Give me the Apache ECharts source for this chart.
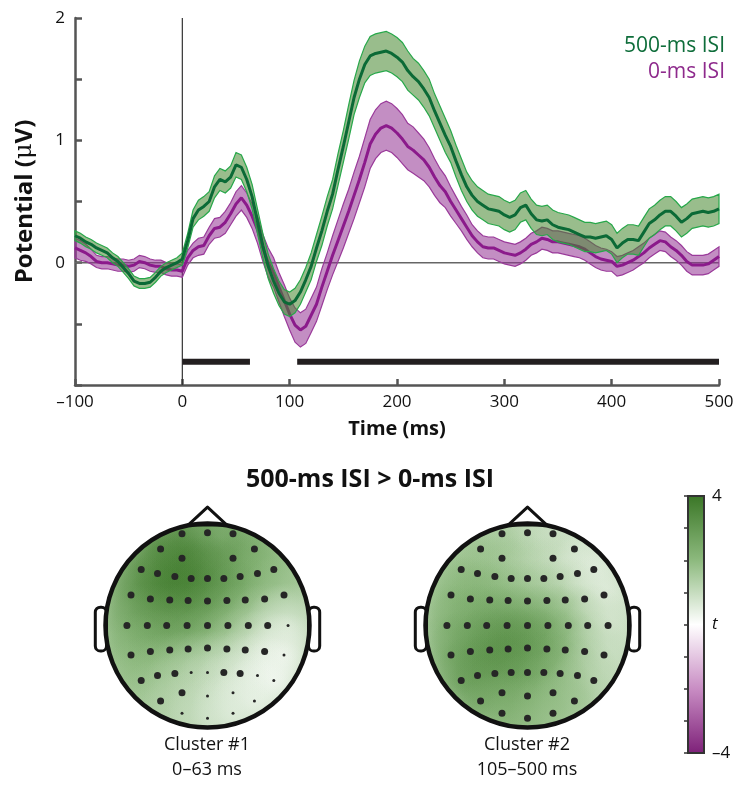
<!DOCTYPE html>
<html><head><meta charset="utf-8">
<script src="https://cdn.jsdelivr.net/npm/echarts@6.0.0/dist/echarts.min.js"></script>
<style>html,body{margin:0;padding:0;background:#fff}#c{width:740px;height:797px}</style>
</head><body><div id="c"></div>
<script>
// ---------- ERP data (time in ms, potential in µV) ----------
const times = [-100,-95,-90,-85,-80,-75,-70,-65,-60,-55,-50,-45,-40,-35,-30,-25,-20,-15,-10,-5,
 0,5,10,15,20,25,30,35,40,45,50,55,60,65,70,75,80,85,90,95,
 100,105,110,115,120,125,130,135,140,145,150,155,160,165,170,175,180,185,190,195,
 200,205,210,215,220,225,230,235,240,245,250,255,260,265,270,275,280,285,290,295,
 300,305,310,315,320,325,330,335,340,345,350,355,360,365,370,375,380,385,390,395,
 400,405,410,415,420,425,430,435,440,445,450,455,460,465,470,475,480,485,490,495,500];
const greenMean = [0.22,0.20,0.17,0.15,0.12,0.10,0.08,0.04,0.01,-0.04,-0.09,-0.15,-0.17,-0.17,-0.16,-0.12,-0.07,-0.04,-0.02,0.00,
 0.03,0.18,0.36,0.43,0.46,0.50,0.62,0.68,0.66,0.70,0.80,0.78,0.68,0.54,0.34,0.14,-0.03,-0.15,-0.25,-0.32,
 -0.34,-0.31,-0.24,-0.14,-0.03,0.12,0.26,0.42,0.56,0.76,0.95,1.15,1.35,1.50,1.62,1.69,1.71,1.72,1.73,1.71,
 1.68,1.64,1.57,1.52,1.48,1.42,1.35,1.24,1.14,1.04,0.95,0.83,0.72,0.62,0.55,0.50,0.47,0.44,0.43,0.42,
 0.39,0.37,0.39,0.45,0.47,0.40,0.35,0.34,0.35,0.31,0.29,0.28,0.27,0.25,0.23,0.21,0.21,0.20,0.21,0.22,
 0.19,0.12,0.16,0.19,0.19,0.18,0.25,0.32,0.35,0.39,0.42,0.42,0.38,0.33,0.36,0.40,0.41,0.42,0.41,0.42,0.44];
const greenSE = [0.04,0.04,0.04,0.04,0.04,0.04,0.04,0.04,0.04,0.04,0.04,0.04,0.04,0.04,0.04,0.04,0.04,0.04,0.04,0.04,
 0.05,0.06,0.07,0.08,0.08,0.08,0.09,0.09,0.09,0.09,0.10,0.10,0.10,0.10,0.10,0.10,0.10,0.10,0.10,0.10,
 0.10,0.10,0.10,0.10,0.11,0.11,0.12,0.12,0.12,0.13,0.13,0.14,0.14,0.15,0.15,0.16,0.16,0.16,0.16,0.16,
 0.16,0.16,0.16,0.15,0.15,0.15,0.15,0.14,0.14,0.14,0.13,0.13,0.13,0.12,0.12,0.12,0.12,0.12,0.12,0.12,
 0.12,0.12,0.12,0.12,0.12,0.12,0.12,0.12,0.12,0.12,0.12,0.12,0.12,0.12,0.12,0.12,0.12,0.12,0.12,0.12,
 0.12,0.12,0.12,0.12,0.12,0.12,0.12,0.12,0.12,0.12,0.12,0.12,0.12,0.12,0.12,0.12,0.12,0.12,0.12,0.12,0.12];
const purpleMean = [0.12,0.10,0.08,0.05,0.01,0.00,0.00,-0.01,-0.02,-0.02,-0.03,-0.02,0.01,0.00,-0.02,-0.03,-0.03,-0.05,-0.06,-0.06,
 -0.07,0.04,0.10,0.13,0.14,0.22,0.28,0.29,0.33,0.40,0.48,0.53,0.47,0.38,0.27,0.12,0.00,-0.08,-0.20,-0.31,
 -0.42,-0.51,-0.55,-0.52,-0.43,-0.34,-0.20,-0.07,0.06,0.18,0.30,0.42,0.55,0.68,0.82,0.97,1.05,1.10,1.12,1.10,
 1.06,1.01,0.95,0.92,0.88,0.84,0.78,0.70,0.63,0.58,0.50,0.43,0.36,0.29,0.22,0.17,0.13,0.12,0.12,0.10,
 0.08,0.07,0.06,0.08,0.11,0.15,0.17,0.20,0.19,0.17,0.17,0.16,0.15,0.14,0.13,0.11,0.08,0.05,0.03,0.02,
 0.01,-0.03,-0.02,0.00,0.02,0.05,0.08,0.12,0.15,0.18,0.17,0.13,0.10,0.06,0.01,-0.02,-0.02,-0.02,-0.01,0.02,0.05];
const purpleSE = [0.08,0.08,0.07,0.06,0.05,0.05,0.05,0.05,0.05,0.05,0.05,0.05,0.05,0.05,0.05,0.05,0.05,0.05,0.05,0.05,
 0.05,0.06,0.06,0.07,0.07,0.07,0.08,0.08,0.09,0.09,0.10,0.10,0.10,0.10,0.11,0.11,0.12,0.12,0.12,0.13,
 0.13,0.14,0.14,0.14,0.14,0.14,0.15,0.15,0.16,0.17,0.18,0.18,0.19,0.19,0.20,0.20,0.20,0.20,0.20,0.20,
 0.20,0.20,0.19,0.19,0.18,0.17,0.16,0.15,0.14,0.13,0.12,0.11,0.10,0.10,0.09,0.09,0.09,0.09,0.09,0.09,
 0.09,0.09,0.09,0.09,0.09,0.09,0.09,0.09,0.09,0.09,0.09,0.09,0.09,0.09,0.09,0.09,0.09,0.09,0.09,0.09,
 0.08,0.08,0.08,0.08,0.08,0.08,0.08,0.08,0.08,0.08,0.08,0.08,0.08,0.08,0.08,0.08,0.08,0.08,0.08,0.08,0.08];
const seriesNames = ['500-ms ISI', '0-ms ISI'];
// significant clusters (ms)
const sigStart = [0, 107];
const sigEnd = [63, 500];
const sigLevel = -0.81;
const yTickLabels = [0, 1, 2];

// ---------- topography (head-normalised electrode positions, t values) ----------
const elecX = [-0.25,0,0.25, -0.46,0.46, -0.25,0.25,
 -0.65,-0.49,-0.32,-0.16,0,0.16,0.32,0.49,0.65,
 -0.75,-0.56,-0.37,-0.19,0,0.19,0.37,0.56,0.75,
 -0.79,-0.59,-0.40,-0.20,0,0.20,0.40,0.59,0.79,
 -0.75,-0.56,-0.37,-0.19,0,0.19,0.37,0.56,0.75,
 -0.65,-0.49,-0.32,-0.16,0,0.16,0.32,0.49,0.65,
 -0.46,-0.25,0,0.25,0.46, -0.25,0,0.25];
const elecY = [0.90,0.91,0.90, 0.75,0.75, 0.66,0.66,
 0.55,0.51,0.48,0.46,0.46,0.46,0.48,0.51,0.55,
 0.30,0.26,0.25,0.245,0.24,0.245,0.25,0.26,0.30,
 0,0,0,0,0,0,0,0,0,
 -0.29,-0.255,-0.24,-0.23,-0.22,-0.23,-0.24,-0.255,-0.29,
 -0.54,-0.49,-0.47,-0.46,-0.46,-0.46,-0.47,-0.49,-0.54,
 -0.74,-0.66,-0.69,-0.66,-0.74, -0.86,-0.91,-0.86];
const cluster1T = [3.2,3.0,2.6, 3.4,2.4, 3.6,2.8,
 3.0,3.4,3.6,3.7,3.6,3.2,2.8,2.4,2.0,
 2.8,3.4,3.7,3.7,3.5,3.0,2.6,2.2,1.6,
 2.4,2.8,3.1,3.1,2.9,2.4,1.8,1.2,0.5,
 2.0,2.4,2.6,2.6,2.3,1.8,1.2,0.6,0.2,
 1.8,2.0,1.8,1.5,1.3,1.1,0.8,0.4,0.1,
 1.5,1.4,1.0,0.7,0.3, 1.2,0.9,0.5];
const cluster1Sig = [1,1,1, 1,1, 1,1,
 1,1,1,1,1,1,1,1,1,
 1,1,1,1,1,1,1,1,1,
 1,1,1,1,1,1,1,1,0,
 1,1,1,1,1,1,1,1,0,
 1,1,1,0,0,1,1,0,0,
 1,1,0,0,0, 0,0,0];
const cluster2T = [1.4,1.2,0.8, 1.6,0.6, 1.6,1.2,
 1.8,1.8,1.8,1.6,1.4,1.2,1.0,0.8,0.4,
 2.0,2.2,2.2,2.0,1.8,1.6,1.4,1.0,0.4,
 2.2,2.4,2.6,2.8,2.6,2.4,2.0,1.4,0.6,
 2.4,2.8,3.0,3.2,3.2,2.8,2.4,1.6,0.8,
 2.6,3.0,3.2,3.2,3.0,2.8,2.4,1.8,1.0,
 2.6,2.8,2.6,2.2,1.6, 2.2,2.2,1.8];
const cluster2Sig = cluster1Sig.map(() => 1);
const clusterBaseT = [1.4, 1.2];
const clusterNames = ['Cluster #1', 'Cluster #2'];
const clusterWindows = ['0\u201363 ms', '105\u2013500 ms'];
const topoTitle = '500-ms ISI > 0-ms ISI';
const cbarMin = -4, cbarMax = 4;

// ---------- colour map ----------
const cmap = [[-4,[125,32,120]],[-2,[200,140,195]],[0,[255,255,255]],[2,[140,185,125]],[4,[58,118,38]]];
function colorOf(t){
  t = Math.max(-4, Math.min(4, t));
  for (let i=0;i<cmap.length-1;i++){
    const [a,ca]=cmap[i],[b,cb]=cmap[i+1];
    if (t>=a && t<=b){ const f=(t-a)/(b-a); return ca.map((v,k)=>Math.round(v+(cb[k]-v)*f)); }
  }
  return cmap[cmap.length-1][1];
}
const rgba=(c,a)=>`rgba(${c[0]},${c[1]},${c[2]},${a})`;

const FONT = '"Open Sans", "Noto Sans", sans-serif';
const chart = echarts.init(document.getElementById('c'), null, {renderer:'canvas'});

function bandSeries(mean, se, fill, stroke, z){
  const data = times.map((t,i)=>[t, +(mean[i]-se[i]).toFixed(3), +(mean[i]+se[i]).toFixed(3)]);
  return {type:'custom', z, silent:true, xAxisIndex:0, yAxisIndex:0, data, encode:{x:0, y:[1,2]},
    renderItem(params, api){
      if (params.dataIndex !== 0) return null;
      const up = data.map(d=>api.coord([d[0], d[2]]));
      const lo = data.map(d=>api.coord([d[0], d[1]])).reverse();
      return {type:'polygon', shape:{points: up.concat(lo)}, style:{fill, stroke, lineWidth:1.2}};
    }};
}
function meanSeries(name, mean, color, z){
  return {type:'line', name, z, silent:true, xAxisIndex:0, yAxisIndex:0, showSymbol:false,
    data: times.map((t,i)=>[t, mean[i]]), lineStyle:{color, width:3}, itemStyle:{color}};
}

const topoT = [cluster1T, cluster2T];
const topoSig = [cluster1Sig, cluster2Sig];
const topoSeries = [];
[0,1].forEach(k=>{
  const ax = {xAxisIndex:k+1, yAxisIndex:k+1};
  topoSeries.push({type:'custom', ...ax, z:1, silent:true, data:[[0,0]],
    renderItem(p, api){
      const c=api.coord([0,0]); const R=api.size([1,0])[0];
      return {type:'circle', shape:{cx:c[0], cy:c[1], r:R}, style:{fill: rgba(colorOf(clusterBaseT[k]),1)}};
    }});
  topoSeries.push({type:'custom', ...ax, z:2, silent:true,
    data: elecX.map((x,i)=>[x, elecY[i], topoT[k][i]]),
    renderItem(p, api){
      const c=api.coord([api.value(0), api.value(1)]); const r=api.size([0.42,0])[0];
      const col=colorOf(api.value(2));
      return {type:'circle', shape:{cx:c[0], cy:c[1], r},
        style:{fill: new echarts.graphic.RadialGradient(0.5,0.5,0.5,[
          {offset:0,color:rgba(col,0.7)},{offset:0.45,color:rgba(col,0.4)},{offset:1,color:rgba(col,0)}])}};
    }});
  topoSeries.push({type:'custom', ...ax, z:3, silent:true, data:[[0,0]],
    renderItem(p, api){
      const c=api.coord([0,0]); const R=api.size([1,0])[0];
      const ear = s => ({type:'rect', shape:{x: s<0 ? c[0]-1.10*R : c[0]+0.99*R, y:c[1]-0.18*R, width:0.11*R, height:0.43*R, r:0.05*R},
        style:{fill:'#fff', stroke:'#111', lineWidth:3}});
      return {type:'group', children:[
        {type:'ring', shape:{cx:c[0], cy:c[1], r:R*1.4, r0:R}, style:{fill:'#fff'}},
        ear(-1), ear(1),
        {type:'polygon', shape:{points:[[c[0]-0.19*R, c[1]-0.985*R],[c[0], c[1]-1.16*R],[c[0]+0.19*R, c[1]-0.985*R]]},
          style:{fill:'#fff', stroke:'#111', lineWidth:3, lineJoin:'round'}},
        {type:'circle', shape:{cx:c[0], cy:c[1], r:R}, style:{fill:null, stroke:'#111', lineWidth:4.5}}
      ]};
    }});
  topoSeries.push({type:'scatter', ...ax, z:4, silent:true,
    data: elecX.map((x,i)=>[x, elecY[i], topoSig[k][i]]),
    symbolSize: v => v[2] ? 7 : 3, itemStyle:{color:'#262626', opacity:1}});
});

const cbarStops = [];
cmap.slice().reverse().forEach(([t,c])=>cbarStops.push({offset:(cbarMax-t)/(cbarMax-cbarMin), color:rgba(c,1)}));

const hiddenAxis = (gi)=>({type:'value', gridIndex:gi, min:-1.25, max:1.25, show:false});

const option = {
  animation:false,
  grid:[
    {left:75, right:21, top:18, height:367},
    {left:80, top:498, width:255, height:255},
    {left:400, top:498, width:255, height:255},
    {left:688, top:496, width:16, height:257}
  ],
  xAxis:[
    {type:'value', gridIndex:0, min:-100, max:500, interval:100,
     axisLine:{onZero:false, lineStyle:{color:'#555', width:2.5}},
     axisTick:{inside:true, length:6, lineStyle:{color:'#555', width:2.5}},
     axisLabel:{color:'#111', fontSize:17, fontFamily:FONT, margin:9, formatter:v=> v<0 ? '\u2013'+Math.abs(v) : String(v)},
     splitLine:{show:false},
     name:'Time (ms)', nameLocation:'middle', nameGap:34,
     nameTextStyle:{color:'#111', fontSize:20, fontWeight:'bold', fontFamily:FONT}},
    hiddenAxis(1), hiddenAxis(2),
    {type:'value', gridIndex:3, min:0, max:1, show:false}
  ],
  yAxis:[
    {type:'value', gridIndex:0, min:-1, max:2, interval:0.5,
     axisLine:{show:true, onZero:false, lineStyle:{color:'#555', width:2.5}},
     axisTick:{inside:true, length:7, lineStyle:{color:'#555', width:2.5}},
     axisLabel:{color:'#111', fontSize:17, fontFamily:FONT, margin:10, formatter:v=> yTickLabels.includes(v) ? String(v) : ''},
     splitLine:{show:false},
     name:'{b|Potential (}{m|\u03bc}{b|V)}', nameLocation:'middle', nameGap:38, nameRotate:90,
     nameTextStyle:{rich:{b:{fontSize:24, fontWeight:'bold', fontFamily:FONT, color:'#111'}, m:{fontSize:24, fontFamily:'DejaVu Serif, serif', color:'#111'}}}},
    hiddenAxis(1), hiddenAxis(2),
    {type:'value', gridIndex:3, min:cbarMin, max:cbarMax, interval:1, position:'right', z:10,
     axisLine:{show:false}, splitLine:{show:false},
     axisTick:{inside:true, length:4, lineStyle:{color:'#333', width:1.5}},
     axisLabel:{color:'#111', fontSize:17, fontFamily:FONT, margin:8,
       formatter:v=> v===cbarMax ? String(v) : v===cbarMin ? '\u2013'+Math.abs(v) : v===0 ? '{i|t}' : '',
       rich:{i:{fontStyle:'italic', fontSize:17, fontFamily:FONT, color:'#111'}}}}
  ],
  series:[
    {type:'line', z:1, silent:true, showSymbol:false, data:[[-100,0],[500,0]], lineStyle:{color:'#666', width:1.5}},
    {type:'line', z:1, silent:true, showSymbol:false, data:[[0,-1],[0,2]], lineStyle:{color:'#333', width:1.2}},
    bandSeries(purpleMean, purpleSE, 'rgba(145,50,145,0.55)', '#9a3a9a', 3),
    meanSeries(seriesNames[1], purpleMean, '#8b1a8b', 4),
    bandSeries(greenMean, greenSE, 'rgba(70,135,45,0.55)', '#27a84a', 5),
    meanSeries(seriesNames[0], greenMean, '#0b6a36', 6),
    {type:'custom', z:7, silent:true, xAxisIndex:0, yAxisIndex:0,
     data: sigStart.map((s,i)=>[s, sigEnd[i], sigLevel]), encode:{x:[0,1], y:2},
     renderItem(p, api){
       const a=api.coord([api.value(0), api.value(2)]), b=api.coord([api.value(1), api.value(2)]);
       return {type:'rect', shape:{x:a[0], y:a[1]-3, width:b[0]-a[0], height:6}, style:{fill:'#231f20'}};
     }},
    ...topoSeries,
    {type:'custom', xAxisIndex:3, yAxisIndex:3, z:2, silent:true, data:[[0,cbarMin],[1,cbarMax]],
     renderItem(p, api){
       if (p.dataIndex!==0) return null;
       const a=api.coord([0,cbarMax]), b=api.coord([1,cbarMin]);
       return {type:'rect', shape:{x:a[0], y:a[1], width:b[0]-a[0], height:b[1]-a[1]},
         style:{fill:new echarts.graphic.LinearGradient(0,0,0,1,cbarStops), stroke:'#333', lineWidth:2}};
     }}
  ],
  graphic:[
    {type:'text', z:100, x:725, y:46, style:{text:seriesNames[0], fill:'#0e6d3a', font:'21px '+FONT, textAlign:'right', align:'right', textVerticalAlign:'middle', verticalAlign:'middle'}},
    {type:'text', z:100, x:725, y:72, style:{text:seriesNames[1], fill:'#8e2a8c', font:'21px '+FONT, textAlign:'right', align:'right', textVerticalAlign:'middle', verticalAlign:'middle'}},
    {type:'text', z:100, x:370, y:480, style:{text:topoTitle, fill:'#111', font:'bold 25px '+FONT, textAlign:'center', align:'center', textVerticalAlign:'middle', verticalAlign:'middle'}},
    {type:'text', z:100, x:207, y:745, style:{text:clusterNames[0], fill:'#111', font:'18px '+FONT, textAlign:'center', align:'center', textVerticalAlign:'middle', verticalAlign:'middle'}},
    {type:'text', z:100, x:207, y:770, style:{text:clusterWindows[0], fill:'#111', font:'18px '+FONT, textAlign:'center', align:'center', textVerticalAlign:'middle', verticalAlign:'middle'}},
    {type:'text', z:100, x:527, y:745, style:{text:clusterNames[1], fill:'#111', font:'18px '+FONT, textAlign:'center', align:'center', textVerticalAlign:'middle', verticalAlign:'middle'}},
    {type:'text', z:100, x:527, y:770, style:{text:clusterWindows[1], fill:'#111', font:'18px '+FONT, textAlign:'center', align:'center', textVerticalAlign:'middle', verticalAlign:'middle'}}
  ]
};
chart.setOption(option);
</script></body></html>
